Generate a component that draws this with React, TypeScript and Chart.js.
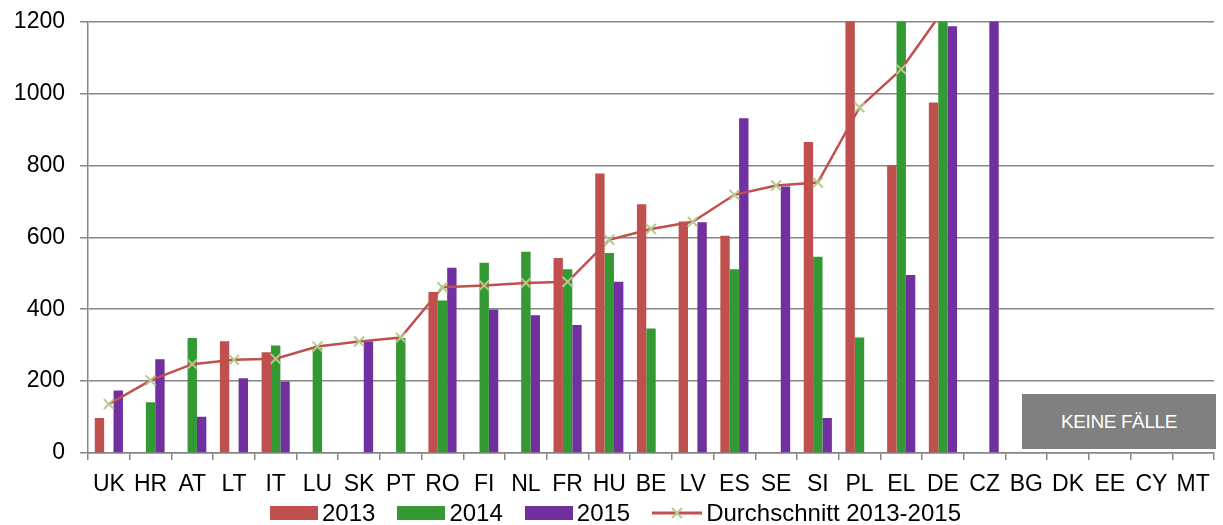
import { useEffect, useRef } from "react";
import Chart from "chart.js/auto";

// -------------------- Daten --------------------
const laender = [
  "UK", "HR", "AT", "LT", "IT", "LU", "SK", "PT", "RO", "FI", "NL", "FR", "HU", "BE",
  "LV", "ES", "SE", "SI", "PL", "EL", "DE", "CZ", "BG", "DK", "EE", "CY", "MT",
];
const werte2013 = [
  97, null, null, 311, 280, null, null, null, 448, null, null, 542, 777, 692,
  644, 604, null, 865, 2560, 801, 975, null, null, null, null, null, null,
];
const werte2014 = [
  null, 141, 320, null, 299, 292, null, 320, 424, 529, 560, 511, 556, 346,
  null, 511, null, 546, 321, 1905, 1530, null, null, null, null, null, null,
];
const werte2015 = [
  174, 261, 101, 208, 199, null, 310, null, 515, 399, 383, 356, 476, null,
  642, 931, 741, 97, null, 495, 1187, 3900, null, null, null, null, null,
];
const durchschnitt = [
  136, 202, 247, 259, 262, 296, 310, 321, 461, 466, 473, 476, 593, 623,
  643, 718, 744, 752, 961, 1067, 1230, 1300, null, null, null, null, null,
];
const yMax = 1200;
const yStep = 200;

const ROT = "#C0504D";
const GRUEN = "#339933";
const LILA = "#7030A0";
const MARKER = "#B3CA8C";
const GRAU = "#868686";
const SCHRIFT = "'Liberation Sans', Arial, sans-serif";

// -------------------- Legende (HTML) --------------------
function Legende() {
  const box = (c: string) => (
    <span style={{ display: "inline-block", width: 48, height: 14, background: c }} />
  );
  const text: React.CSSProperties = { fontSize: 24, lineHeight: "24px", marginLeft: 4, color: "#000" };
  return (
    <div style={{
      position: "absolute", left: 270, top: 501, display: "flex", alignItems: "center",
      fontFamily: SCHRIFT, whiteSpace: "nowrap",
    }}>
      {box(ROT)}<span style={{ ...text, marginRight: 22 }}>2013</span>
      {box(GRUEN)}<span style={{ ...text, marginRight: 22 }}>2014</span>
      {box(LILA)}<span style={{ ...text, marginRight: 22 }}>2015</span>
      <svg width={50} height={14} style={{ display: "block" }}>
        <line x1={0} y1={7} x2={50} y2={7} stroke={ROT} strokeWidth={3} />
        <line x1={20} y1={2} x2={30} y2={12} stroke={MARKER} strokeWidth={2} />
        <line x1={30} y1={2} x2={20} y2={12} stroke={MARKER} strokeWidth={2} />
      </svg>
      <span style={text}>Durchschnitt 2013-2015</span>
    </div>
  );
}

// -------------------- Diagramm --------------------
export default function App() {
  const canvasRef = useRef<HTMLCanvasElement | null>(null);
  const chartRef = useRef<Chart | null>(null);

  useEffect(() => {
    if (!canvasRef.current) return;
    if (chartRef.current) {
      chartRef.current.destroy();
      chartRef.current = null;
    }

    chartRef.current = new Chart(canvasRef.current, {
      type: "bar",
      data: {
        labels: laender,
        datasets: [
          {
            type: "line",
            label: "Durchschnitt 2013-2015",
            data: durchschnitt,
            order: 0,
            borderColor: ROT,
            borderWidth: 2.5,
            tension: 0,
            pointStyle: "crossRot",
            pointRadius: 7,
            pointBorderColor: MARKER,
            pointBorderWidth: 2,
            pointBackgroundColor: MARKER,
          },
          { label: "2013", data: werte2013, backgroundColor: ROT, order: 1 },
          { label: "2014", data: werte2014, backgroundColor: GRUEN, order: 1 },
          { label: "2015", data: werte2015, backgroundColor: LILA, order: 1 },
        ] as any,
      },
      options: {
        animation: false,
        responsive: true,
        maintainAspectRatio: false,
        layout: { padding: { top: 21.5, right: 1, left: 0, bottom: 0 } },
        datasets: { bar: { categoryPercentage: 0.675, barPercentage: 1, borderWidth: 0 } },
        plugins: { legend: { display: false }, tooltip: { enabled: false } },
        scales: {
          x: {
            offset: true,
            grid: { display: true, drawOnChartArea: false, drawTicks: true, tickLength: 7, color: GRAU, lineWidth: 1.5 },
            border: { color: GRAU, width: 1.5 },
            ticks: { color: "#000", font: { family: SCHRIFT, size: 23 }, padding: 11, maxRotation: 0, autoSkip: false },
            afterFit: (s: any) => { s.height = 500 - 453; s.paddingLeft = 0; s.paddingRight = 0; },
          },
          y: {
            min: 0,
            max: yMax,
            ticks: {
              stepSize: yStep, color: "#000", font: { family: SCHRIFT, size: 23 }, padding: 15,
              callback: (v: any) => String(v),
            },
            grid: { color: GRAU, lineWidth: 1.5, tickLength: 8 },
            border: { color: GRAU, width: 1.5 },
            afterFit: (s: any) => { s.width = 88; s.paddingTop = 0; s.paddingBottom = 0; },
          },
        },
      },
    });

    return () => {
      chartRef.current?.destroy();
      chartRef.current = null;
    };
  }, []);

  return (
    <div style={{ position: "absolute", left: 0, top: 0, width: 1223, height: 525, background: "#fff" }}>
      <div style={{ position: "absolute", left: 0, top: 0, width: 1223, height: 500 }}>
        <canvas ref={canvasRef} />
      </div>
      <div style={{
        position: "absolute", left: 1022, top: 394, width: 194, height: 55, background: "#808080",
        color: "#fff", fontFamily: SCHRIFT, fontSize: 19, letterSpacing: -0.4,
        display: "flex", alignItems: "center", justifyContent: "center",
      }}>
        KEINE FÄLLE
      </div>
      <Legende />
    </div>
  );
}
